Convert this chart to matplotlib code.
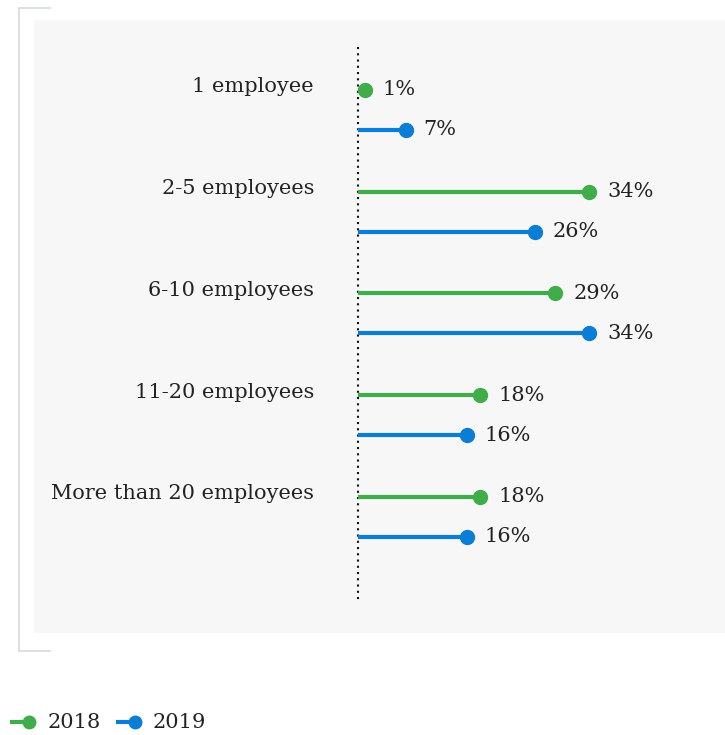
import matplotlib.pyplot as plt
from matplotlib.lines import Line2D

categories = ['1 employee', '2-5 employees', '6-10 employees',
              '11-20 employees', 'More than 20 employees']
vals_2018 = [1, 34, 29, 18, 18]
vals_2019 = [7, 26, 34, 16, 16]
series = ['2018', '2019']

green = '#3fae4a'
blue = '#0a7dd6'
txt = '#222222'

plt.rcParams['font.family'] = ['DejaVu Serif']

fig = plt.figure(figsize=(7.25, 7.35), dpi=100)
W, H = 725, 735
# gray panel at x 34..725, y 20..633 px
ax = fig.add_axes([34 / W, 1 - 633 / H, (725 - 34) / W, (633 - 20) / H])
ax.set_facecolor('#f7f7f7')
for s in ax.spines.values():
    s.set_visible(False)
ax.set_xticks([])
ax.set_yticks([])
ax.set_xlim(-47.65, 53.97)
ax.set_ylim(5.337, -0.688)

off = 0.393
for i, (cat, a, b) in enumerate(zip(categories, vals_2018, vals_2019)):
    for v, y, c in [(a, i, green), (b, i + off, blue)]:
        ax.plot([0, v], [y, y], color=c, lw=3, solid_capstyle='butt', zorder=3)
        ax.plot(v, y, 'o', color=c, ms=10, zorder=4)
        ax.annotate(f'{v}%', (v, y), xytext=(13, 0), textcoords='offset points',
                    va='center', ha='left', fontsize=15, color=txt)
    ax.text(-6.47, i - 0.03, cat, ha='right', va='center', fontsize=15, color=txt)

ax.plot([0, 0], [-0.423, 5.01], color='#111111', lw=1.5, ls=(0, (1, 2)), zorder=2)

# bracket at left
bc = '#d6dae2'
fig.add_artist(Line2D([18.5 / W, 18.5 / W], [1 - 8 / H, 1 - 651 / H], color=bc, lw=1.2))
fig.add_artist(Line2D([18.5 / W, 50 / W], [1 - 8 / H, 1 - 8 / H], color=bc, lw=1.2))
fig.add_artist(Line2D([18.5 / W, 50 / W], [1 - 651 / H, 1 - 651 / H], color=bc, lw=1.2))

# legend drawn by hand: short line with a dot at its right end
ly = 1 - 722 / H
for (x0, x1, tx), c, lab in zip([(10, 29, 48), (116, 135, 153)], (green, blue), series):
    fig.add_artist(Line2D([x0 / W, x1 / W], [ly, ly], color=c, lw=3, solid_capstyle='butt'))
    fig.add_artist(Line2D([x1 / W], [ly], color=c, marker='o', ms=9, lw=0))
    fig.text(tx / W, ly, lab, ha='left', va='center', fontsize=15, color=txt)

fig.savefig('out.png', dpi=100)
